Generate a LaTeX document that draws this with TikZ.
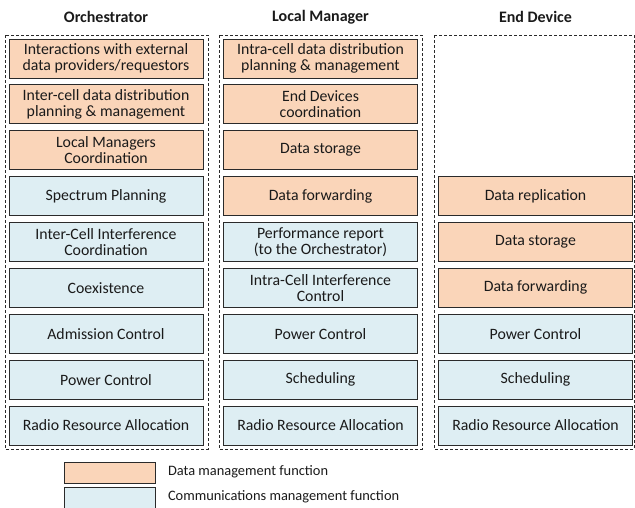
\documentclass[tikz,border=0pt]{standalone}
\usepackage{fontspec}
\setmainfont{Carlito}
\definecolor{dataorange}{HTML}{FAD5B9}
\definecolor{commblue}{HTML}{DEEEF3}
\definecolor{boxline}{HTML}{2A2A2A}
\definecolor{txt}{HTML}{1A1A1A}
\begin{document}
\begin{tikzpicture}[x=1pt,y=-1pt,
  fbox/.style={draw=boxline,line width=0.9pt,minimum width=194pt,minimum height=39pt,
    inner sep=0pt,align=center,font=\fontsize{15.8}{15.7}\selectfont,text=txt},
  databox/.style={fbox,fill=dataorange},
  commbox/.style={fbox,fill=commblue},
  groupframe/.style={draw=boxline,line width=0.8pt,dash pattern=on 3pt off 2pt},
  coltitle/.style={font=\fontsize{16}{18}\selectfont\bfseries,text=txt},
  legtext/.style={anchor=west,font=\fontsize{14.4}{16}\selectfont,text=txt}]
\useasboundingbox (0,0) rectangle (635,507);
% group frames
\draw[groupframe] (5,35) rectangle (208,449);
\draw[groupframe] (219,35) rectangle (422,449);
\draw[groupframe] (434,35) rectangle (634,449);
% titles
\node[coltitle] (t1) at (106,17) {Orchestrator};
\node[coltitle] (t2) at (320.5,17) {Local Manager};
\node[coltitle] (t3) at (535.5,17) {End Device};
% column 1
\node[databox] (o1) at (106,58.5) {Interactions with external\\data providers/requestors};
\node[databox] (o2) at (106,104.3) {Inter-cell data distribution\\planning \& management};
\node[databox] (o3) at (106,150.2) {Local Managers\\Coordination};
\node[commbox] (o4) at (106,196.1) {Spectrum Planning};
\node[commbox] (o5) at (106,242) {Inter-Cell Interference\\Coordination};
\node[commbox] (o6) at (106,287.8) {Coexistence};
\node[commbox] (o7) at (106,333.7) {Admission Control};
\node[commbox] (o8) at (106,379.6) {Power Control};
\node[commbox] (o9) at (106,425.5) {Radio Resource Allocation};
% column 2
\node[databox] (l1) at (320.5,58.5) {Intra-cell data distribution\\planning \& management};
\node[databox] (l2) at (320.5,104.3) {End Devices\\coordination};
\node[databox] (l3) at (320.5,150.2) {Data storage};
\node[databox] (l4) at (320.5,196.1) {Data forwarding};
\node[commbox] (l5) at (320.5,242) {Performance report\\(to the Orchestrator)};
\node[commbox] (l6) at (320.5,287.8) {Intra-Cell Interference\\Control};
\node[commbox] (l7) at (320.5,333.7) {Power Control};
\node[commbox] (l8) at (320.5,379.6) {Scheduling};
\node[commbox] (l9) at (320.5,425.5) {Radio Resource Allocation};
% column 3
\node[databox] (e4) at (535.5,196.1) {Data replication};
\node[databox] (e5) at (535.5,242) {Data storage};
\node[databox] (e6) at (535.5,287.8) {Data forwarding};
\node[commbox] (e7) at (535.5,333.7) {Power Control};
\node[commbox] (e8) at (535.5,379.6) {Scheduling};
\node[commbox] (e9) at (535.5,425.5) {Radio Resource Allocation};
% legend
\node[databox,minimum width=91pt,minimum height=21pt,line width=0.7pt] (lg1) at (109.5,472.5) {};
\node[commbox,minimum width=91pt,minimum height=21pt,line width=0.7pt] (lg2) at (109.5,497.5) {};
\node[legtext] (lt1) at (164.5,472) {Data management function};
\node[legtext] (lt2) at (164.5,497) {Communications management function};
\end{tikzpicture}
\end{document}
